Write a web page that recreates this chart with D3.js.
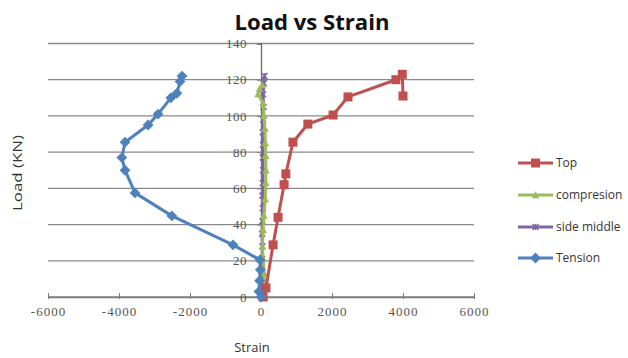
<!DOCTYPE html>
<html><head><meta charset="utf-8">
<script src="https://cdn.jsdelivr.net/npm/d3@7"></script>
<style>html,body{margin:0;padding:0;background:#fff;}</style>
</head><body>
<svg id="c" width="628" height="358"></svg>
<script>
const xTicks = [-6000, -4000, -2000, 0, 2000, 4000, 6000];
const yTicks = [0, 20, 40, 60, 80, 100, 120, 140];

const topStrain = [60, 140, 340, 480, 650, 700, 900, 1320, 2030, 2450, 3800, 3980, 4000];
const topLoad   = [0, 5, 28.8, 44, 62, 68, 85.5, 95.5, 100.5, 110.5, 120, 123, 111];

const compStrain = [80, 100, 90, 60, 40, 60, 80, 120, 130, 140, 130, 120, 110, 80, 60, -80, -40, 40];
const compLoad   = [0, 5, 13, 21, 28, 37, 45, 54, 63, 70, 78, 85, 93, 100, 107, 112, 115, 117];

const sideStrain = [20, 30, 20, 30, 40, 30, 40, 50, 40, 50, 60, 50, 60, 50, 60, 70, 60, 80, 100];
const sideLoad   = [0, 7, 14, 21, 28, 35, 42, 49, 56, 63, 70, 77, 84, 91, 98, 105, 112, 118, 122];

const tenStrain = [0, -60, -40, -20, -30, -790, -2510, -3550, -3830, -3920, -3830, -3180, -2900, -2540, -2370, -2280, -2225];
const tenLoad   = [0, 3, 9, 15, 20.5, 28.8, 44.8, 57.5, 70, 77, 85.5, 95, 101, 110, 112.5, 119, 122];

const seriesNames = ["Top", "compresion", "side middle", "Tension"];
const seriesColors = ["#C0504D", "#9BBB59", "#8064A2", "#4F81BD"];

const series = [
  {name: seriesNames[0], color: seriesColors[0], xs: topStrain, ys: topLoad, marker: "square"},
  {name: seriesNames[1], color: seriesColors[1], xs: compStrain, ys: compLoad, marker: "triangle"},
  {name: seriesNames[2], color: seriesColors[2], xs: sideStrain, ys: sideLoad, marker: "star"},
  {name: seriesNames[3], color: seriesColors[3], xs: tenStrain, ys: tenLoad, marker: "diamond"}
];

const svg = d3.select("#c");
const x = d3.scaleLinear().domain([-6000, 6000]).range([48, 474]);
const y = d3.scaleLinear().domain([0, 140]).range([297, 43.5]);
const fmt = d => String(d);

// gridlines
svg.append("g").selectAll("line").data(yTicks).join("line")
  .attr("x1", x(-6000)).attr("x2", x(6000))
  .attr("y1", d => y(d)).attr("y2", d => y(d))
  .attr("stroke", "#8a8a8a").attr("stroke-width", 1.3);

// x axis
const xAxis = d3.axisBottom(x).tickValues(xTicks).tickSize(0).tickFormat(fmt);
const gx = svg.append("g").attr("transform", `translate(0,${y(0)})`).call(xAxis);
gx.select(".domain").attr("stroke", "#7a7a7a").attr("stroke-width", 1.3);
gx.selectAll(".tick text").attr("dy", "0.71em").attr("y", 10)
  .attr("font-family", "Liberation Serif").attr("font-size", 13).attr("fill", "#555").attr("letter-spacing", "1");
gx.selectAll(".tick").append("line").attr("y1", -4).attr("y2", 2).attr("stroke", "#7a7a7a");

// y axis at x = 0
const yAxis = d3.axisLeft(y).tickValues(yTicks).tickSize(4).tickPadding(10).tickFormat(fmt);
const gy = svg.append("g").attr("transform", `translate(${x(0)},0)`).call(yAxis);
gy.select(".domain").attr("stroke", "#6a6a6a").attr("stroke-width", 1.3);
gy.selectAll(".tick line").attr("stroke", "#7a7a7a");
gy.selectAll(".tick text").attr("font-family", "Liberation Serif").attr("font-size", 13).attr("fill", "#555").attr("letter-spacing", "0.5");

// markers
function drawMarker(g, type, color, size) {
  if (type === "square") {
    g.append("rect").attr("x", -size/2).attr("y", -size/2).attr("width", size).attr("height", size).attr("fill", color);
  } else if (type === "diamond") {
    g.append("path").attr("d", `M0,${-size*0.6}L${size*0.6},0L0,${size*0.6}L${-size*0.6},0Z`).attr("fill", color);
  } else if (type === "triangle") {
    g.append("path").attr("d", `M0,${-size*0.55}L${size*0.55},${size*0.45}L${-size*0.55},${size*0.45}Z`).attr("fill", color);
  } else {
    const s = size/2;
    g.append("path").attr("d", `M${-s},${-s}L${s},${s}M${-s},${s}L${s},${-s}M0,${-s}L0,${s}`).attr("stroke", color).attr("stroke-width", 1.5);
  }
}
const markerSize = {square: 9, diamond: 9, triangle: 7, star: 6};

const line = d3.line().x(d => x(d[0])).y(d => y(d[1]));
const drawOrder = [2, 1, 0, 3];
drawOrder.forEach(i => {
  const s = series[i];
  const pts = s.xs.map((v, k) => [v, s.ys[k]]);
  const g = svg.append("g");
  g.append("path").attr("d", line(pts)).attr("fill", "none").attr("stroke", s.color).attr("stroke-width", 3).attr("stroke-linejoin", "round");
  pts.forEach(p => {
    const m = g.append("g").attr("transform", `translate(${x(p[0])},${y(p[1])})`);
    drawMarker(m, s.marker, s.color, markerSize[s.marker]);
  });
});

// title
svg.append("text").attr("x", 312).attr("y", 30).attr("text-anchor", "middle")
  .attr("font-family", "Open Sans").attr("font-weight", "bold").attr("font-size", 22)
  .attr("textLength", 155).attr("lengthAdjust", "spacingAndGlyphs").attr("fill", "#111")
  .text("Load vs Strain");

// axis titles
svg.append("text").attr("transform", "translate(22,173) rotate(-90)").attr("text-anchor", "middle")
  .attr("font-family", "Open Sans").attr("font-size", 13).attr("fill", "#333")
  .attr("textLength", 76).attr("lengthAdjust", "spacingAndGlyphs")
  .text("Load (KN)");
svg.append("text").attr("x", 252).attr("y", 352).attr("text-anchor", "middle")
  .attr("font-family", "Open Sans").attr("font-size", 13).attr("fill", "#333")
  .text("Strain");

// legend
const legY = [163, 195, 227, 258];
const leg = svg.append("g");
series.forEach((s, i) => {
  const g = leg.append("g").attr("transform", `translate(0,${legY[i]})`);
  g.append("line").attr("x1", 518).attr("x2", 553).attr("y1", 0).attr("y2", 0).attr("stroke", s.color).attr("stroke-width", 3);
  const m = g.append("g").attr("transform", "translate(535.5,0)");
  drawMarker(m, s.marker, s.color, markerSize[s.marker]);
  g.append("text").attr("x", 556).attr("y", 0).attr("dy", "0.35em")
    .attr("font-family", "Open Sans").attr("font-size", 12).attr("fill", "#333").text(s.name);
});
</script>
</body></html>
